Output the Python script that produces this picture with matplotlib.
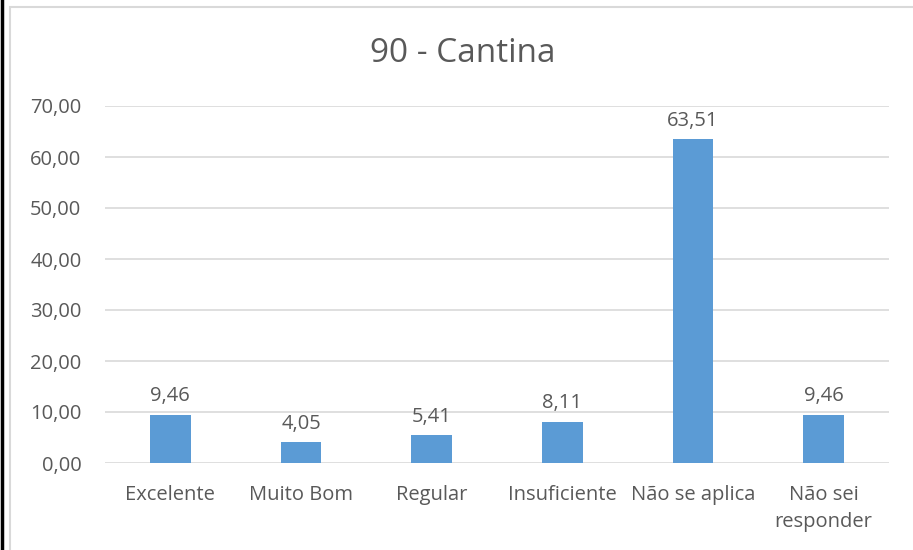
import matplotlib
matplotlib.use("Agg")
import matplotlib.pyplot as plt
from matplotlib.patches import Rectangle
from matplotlib.lines import Line2D

categories = ["Excelente", "Muito Bom", "Regular", "Insuficiente", "Não se aplica", "Não sei\nresponder"]
values = [9.46, 4.05, 5.41, 8.11, 63.51, 9.46]
yticks = [0, 10, 20, 30, 40, 50, 60, 70]
title = "90 - Cantina"

plt.rcParams['font.family'] = ['Open Sans', 'DejaVu Sans']
text_color = "#595959"
bar_color = "#5B9BD5"
grid_color = "#D9D9D9"

def fmt(v):
    return f"{v:.2f}".replace(".", ",")

fig = plt.figure(figsize=(9.13, 5.5), dpi=100)
fig.patch.set_facecolor("white")

# chart frame
fig.add_artist(Rectangle((10 / 913, -0.05), 1.0, (550 - 6.5) / 550 + 0.05,
                         transform=fig.transFigure, fill=False,
                         edgecolor="#D9D9D9", linewidth=1.5))
fig.add_artist(Line2D([1.5 / 913, 1.5 / 913], [0, 1], transform=fig.transFigure,
                      color="black", linewidth=2.5))

ax = fig.add_axes([105 / 913, (550 - 463) / 550, 784 / 913, (463 - 106) / 550])
x = list(range(len(categories)))
bars = ax.bar(x, values, width=0.31, color=bar_color, zorder=3)

ax.set_xlim(-0.5, len(categories) - 0.5)
ax.set_ylim(0, 70)
ax.set_yticks(yticks)
ax.set_yticklabels([fmt(t) for t in yticks], fontsize=14.5, color=text_color)
ax.set_xticks(x)
ax.set_xticklabels(categories, fontsize=14.5, color=text_color, linespacing=1.45, va="top")
ax.tick_params(axis="both", length=0)
ax.tick_params(axis="y", pad=17)
ax.tick_params(axis="x", pad=16)
ax.grid(axis="y", color=grid_color, linewidth=1.2, zorder=0)
for s in ax.spines.values():
    s.set_visible(False)

for b, v in zip(bars, values):
    ax.annotate(fmt(v), (b.get_x() + b.get_width() / 2, v), xytext=(0, 6),
                textcoords="offset points", ha="center", va="bottom",
                fontsize=14.5, color=text_color)

fig.text(463 / 913, 1 - 53 / 550, title, ha="center", va="center",
         fontsize=24, color=text_color)

fig.savefig("out.png", dpi=100, facecolor="white")
